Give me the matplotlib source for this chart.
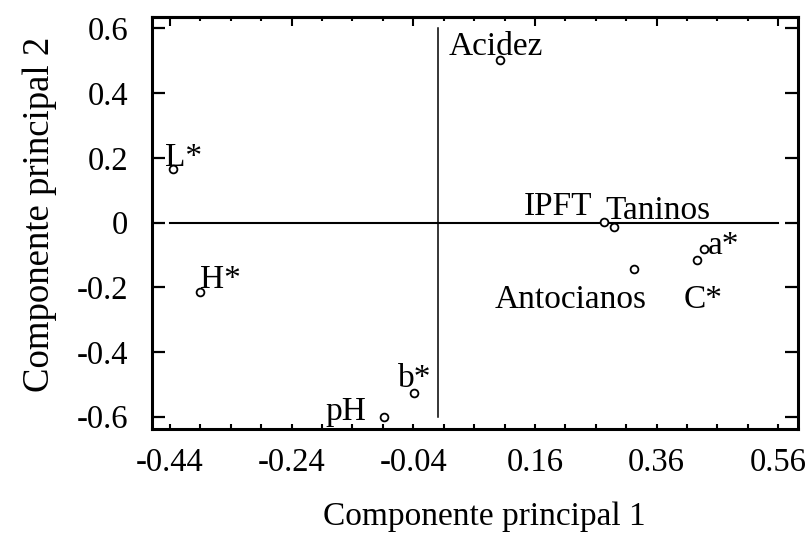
import matplotlib
matplotlib.use("Agg")
import matplotlib.pyplot as plt
import numpy as np
from matplotlib.ticker import FixedLocator

plt.rcParams['font.family'] = ['Liberation Serif', 'DejaVu Serif']

# ---- data ----
names = ["Acidez", "IPFT", "Taninos", "Antocianos", "a*", "C*", "pH", "b*", "L*", "H*"]
pc1 = [0.103, 0.273, 0.290, 0.323, 0.438, 0.427, -0.0875, -0.039, -0.4355, -0.391]
pc2 = [0.503, 0.003, -0.015, -0.144, -0.082, -0.115, -0.602, -0.527, 0.165, -0.215]

xticks = [-0.44, -0.24, -0.04, 0.16, 0.36, 0.56]
yticks = [-0.6, -0.4, -0.2, 0, 0.2, 0.4, 0.6]
ytick_labels = ["-0.6", "-0.4", "-0.2", "0", "0.2", "0.4", "0.6"]
hline_x = [-0.44, 0.56]
vline_y = [-0.6, 0.6]

# label offsets (pixels) and alignment
label_style = {
    "Acidez": (-52, 5, "left"),
    "IPFT": (-11, 7, "right"),
    "Taninos": (-9, 8, "left"),
    "Antocianos": (13, -39, "right"),
    "a*": (4, -5, "left"),
    "C*": (-14, -48, "left"),
    "pH": (-59, -3, "left"),
    "b*": (-16, 6, "left"),
    "L*": (-8, 3, "left"),
    "H*": (0, 4, "left"),
}

fig = plt.figure(figsize=(8.06, 5.40), dpi=100)
L, R, T, B = 151.7, 798.3, 16.7, 429.3
W, H = 806, 540
ax = fig.add_axes([L / W, 1 - B / H, (R - L) / W, (B - T) / H])

ax.set_xlim(-0.470, 0.593)
ax.set_ylim(-0.639, 0.636)

# zero reference lines
ax.plot(hline_x, [0, 0], color="black", lw=1.5, zorder=2)
ax.plot([0, 0], vline_y, color="black", lw=1.1, zorder=2)

ax.plot(pc1, pc2, linestyle="none", marker="o", ms=5.6, mfc="white",
        mec="black", mew=1.3, zorder=3)

for n, x, y in zip(names, pc1, pc2):
    dx, dy, ha = label_style[n]
    ax.annotate(n, (x, y), xytext=(dx, dy), textcoords="offset pixels",
                ha=ha, va="baseline", fontsize=24, zorder=4)

for s in ax.spines.values():
    s.set_linewidth(2.2)

minor_x = np.round(np.arange(-0.44, 0.5601, 0.05), 3)
ax.xaxis.set_major_locator(FixedLocator(xticks))
ax.xaxis.set_minor_locator(FixedLocator(minor_x))
ax.set_xticklabels([f"{v:.2f}" for v in xticks])
ax.yaxis.set_major_locator(FixedLocator(yticks))
ax.set_yticklabels(ytick_labels)

ax.tick_params(axis="x", which="both", direction="in", length=3.6, width=1.5,
               top=False, bottom=True, labelsize=23.5, pad=13)
ax.tick_params(axis="y", which="major", direction="in", length=9.5, width=1.6,
               left=True, right=True, labelsize=23.5, pad=17)

sec = ax.secondary_xaxis("top")
sec.xaxis.set_major_locator(FixedLocator(xticks))
sec.xaxis.set_minor_locator(FixedLocator(minor_x))
sec.tick_params(axis="x", which="major", direction="in", length=6.5, width=1.5, labeltop=False)
sec.tick_params(axis="x", which="minor", direction="in", length=3, width=1.5)
sec.spines["top"].set_linewidth(2.2)

ax.set_xlabel("Componente principal 1", fontsize=24)
ax.set_ylabel("Componente principal 2", fontsize=26.5)
ax.xaxis.set_label_coords(0.515, -0.176)
ax.yaxis.set_label_coords(-0.147, 0.52)

fig.savefig("out.png", dpi=100)
